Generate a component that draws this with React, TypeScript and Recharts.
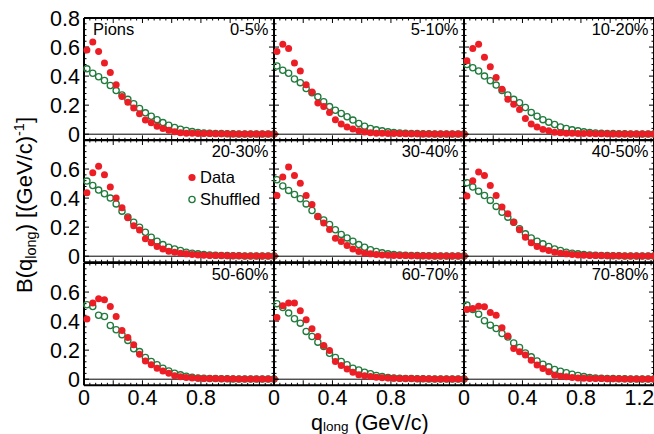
import React from 'react';
import { ScatterChart, Scatter, XAxis, YAxis, ReferenceLine, Legend } from 'recharts';

// ---------- data ----------
const Q_LONG = [0.02, 0.06, 0.10, 0.14, 0.18, 0.22, 0.26, 0.30, 0.34, 0.38, 0.42, 0.46, 0.50, 0.54, 0.58, 0.62, 0.66, 0.70, 0.74, 0.78, 0.82, 0.86, 0.90, 0.94, 0.98, 1.02, 1.06, 1.10, 1.14, 1.18, 1.22, 1.26, 1.30];

const CENTRALITY = ['0-5%', '5-10%', '10-20%', '20-30%', '30-40%', '40-50%', '50-60%', '60-70%', '70-80%'];

const DATA_0_5 = [0.58, 0.635, 0.57, 0.49, 0.425, 0.34, 0.26, 0.22, 0.18, 0.14, 0.097, 0.078, 0.055, 0.039, 0.028, 0.016, 0.01, 0.007, 0.006, 0.005, 0.004, 0.004, 0.003, 0.003, 0.003, 0.002, 0.002, 0.002, 0.002, 0.002, 0.002, 0.002, 0.002];
const SHUF_0_5 = [0.45, 0.42, 0.395, 0.37, 0.335, 0.30, 0.27, 0.24, 0.21, 0.177, 0.147, 0.124, 0.10, 0.08, 0.062, 0.046, 0.034, 0.025, 0.018, 0.012, 0.008, 0.006, 0.005, 0.004, 0.003, 0.003, 0.002, 0.002, 0.002, 0.002, 0.002, 0.002, 0.002];
const DATA_5_10 = [0.57, 0.62, 0.59, 0.49, 0.435, 0.34, 0.29, 0.215, 0.19, 0.15, 0.10, 0.07, 0.05, 0.035, 0.023, 0.015, 0.01, 0.007, 0.006, 0.005, 0.004, 0.004, 0.003, 0.003, 0.003, 0.002, 0.002, 0.002, 0.002, 0.002, 0.002, 0.002, 0.002];
const SHUF_5_10 = [0.47, 0.44, 0.42, 0.38, 0.355, 0.315, 0.285, 0.257, 0.223, 0.19, 0.165, 0.143, 0.12, 0.097, 0.074, 0.055, 0.04, 0.03, 0.023, 0.016, 0.011, 0.008, 0.006, 0.005, 0.004, 0.003, 0.003, 0.002, 0.002, 0.002, 0.002, 0.002, 0.002];
const DATA_10_20 = [0.505, 0.59, 0.62, 0.53, 0.465, 0.39, 0.31, 0.24, 0.207, 0.17, 0.108, 0.07, 0.05, 0.032, 0.023, 0.014, 0.01, 0.007, 0.006, 0.005, 0.004, 0.004, 0.003, 0.003, 0.003, 0.002, 0.002, 0.002, 0.002, 0.002, 0.002, 0.002, 0.002];
const SHUF_10_20 = [0.48, 0.457, 0.435, 0.40, 0.368, 0.338, 0.30, 0.27, 0.24, 0.216, 0.184, 0.15, 0.124, 0.10, 0.083, 0.067, 0.05, 0.04, 0.03, 0.023, 0.016, 0.011, 0.008, 0.006, 0.005, 0.004, 0.003, 0.003, 0.002, 0.002, 0.002, 0.002, 0.002];
const DATA_20_30 = [0.437, 0.575, 0.62, 0.56, 0.476, 0.40, 0.333, 0.264, 0.21, 0.18, 0.12, 0.092, 0.067, 0.05, 0.034, 0.027, 0.02, 0.016, 0.011, 0.008, 0.006, 0.005, 0.004, 0.004, 0.003, 0.003, 0.003, 0.002, 0.002, 0.002, 0.002, 0.002, 0.002];
const SHUF_20_30 = [0.517, 0.487, 0.455, 0.43, 0.40, 0.36, 0.31, 0.27, 0.234, 0.20, 0.165, 0.131, 0.103, 0.08, 0.062, 0.05, 0.039, 0.028, 0.02, 0.016, 0.011, 0.008, 0.006, 0.005, 0.004, 0.003, 0.003, 0.002, 0.002, 0.002, 0.002, 0.002, 0.002];
const DATA_30_40 = [0.418, 0.545, 0.614, 0.556, 0.503, 0.418, 0.356, 0.274, 0.228, 0.184, 0.124, 0.101, 0.074, 0.05, 0.032, 0.021, 0.016, 0.011, 0.008, 0.006, 0.005, 0.004, 0.004, 0.003, 0.003, 0.003, 0.002, 0.002, 0.002, 0.002, 0.002, 0.002, 0.002];
const SHUF_30_40 = [0.526, 0.483, 0.453, 0.425, 0.395, 0.36, 0.315, 0.274, 0.25, 0.218, 0.182, 0.15, 0.126, 0.103, 0.08, 0.062, 0.044, 0.032, 0.023, 0.016, 0.011, 0.008, 0.006, 0.005, 0.004, 0.003, 0.003, 0.002, 0.002, 0.002, 0.002, 0.002, 0.002];
const DATA_40_50 = [0.414, 0.52, 0.58, 0.556, 0.487, 0.418, 0.338, 0.292, 0.234, 0.182, 0.131, 0.092, 0.067, 0.05, 0.039, 0.028, 0.021, 0.016, 0.011, 0.008, 0.006, 0.005, 0.004, 0.004, 0.003, 0.003, 0.003, 0.002, 0.002, 0.002, 0.002, 0.002, 0.002];
const SHUF_40_50 = [0.506, 0.476, 0.448, 0.418, 0.384, 0.343, 0.303, 0.269, 0.234, 0.189, 0.154, 0.126, 0.103, 0.085, 0.067, 0.05, 0.039, 0.028, 0.021, 0.016, 0.011, 0.008, 0.006, 0.005, 0.004, 0.003, 0.003, 0.002, 0.002, 0.002, 0.002, 0.002, 0.002];
const DATA_50_60 = [0.414, 0.524, 0.554, 0.547, 0.50, 0.432, 0.336, 0.287, 0.237, 0.172, 0.126, 0.099, 0.076, 0.057, 0.041, 0.023, 0.016, 0.011, 0.008, 0.006, 0.005, 0.004, 0.004, 0.003, 0.003, 0.003, 0.002, 0.002, 0.002, 0.002, 0.002, 0.002, 0.002];
const SHUF_50_60 = [0.513, 0.50, 0.44, 0.432, 0.37, 0.34, 0.306, 0.267, 0.209, 0.19, 0.149, 0.122, 0.099, 0.076, 0.057, 0.041, 0.03, 0.021, 0.014, 0.009, 0.007, 0.005, 0.004, 0.003, 0.003, 0.002, 0.002, 0.002, 0.002, 0.002, 0.002, 0.002, 0.002];
const DATA_60_70 = [0.425, 0.506, 0.524, 0.524, 0.471, 0.41, 0.347, 0.294, 0.232, 0.198, 0.122, 0.094, 0.071, 0.048, 0.03, 0.023, 0.018, 0.014, 0.01, 0.008, 0.006, 0.005, 0.004, 0.004, 0.003, 0.003, 0.003, 0.002, 0.002, 0.002, 0.002, 0.002, 0.002];
const SHUF_60_70 = [0.52, 0.494, 0.455, 0.416, 0.386, 0.329, 0.294, 0.255, 0.225, 0.179, 0.149, 0.122, 0.099, 0.076, 0.064, 0.048, 0.037, 0.025, 0.018, 0.011, 0.008, 0.006, 0.005, 0.004, 0.003, 0.003, 0.002, 0.002, 0.002, 0.002, 0.002, 0.002, 0.002];
const DATA_70_80 = [0.48, 0.487, 0.503, 0.499, 0.46, 0.441, 0.354, 0.297, 0.211, 0.189, 0.166, 0.131, 0.097, 0.074, 0.051, 0.028, 0.021, 0.016, 0.011, 0.008, 0.006, 0.005, 0.004, 0.004, 0.003, 0.003, 0.003, 0.002, 0.002, 0.002, 0.002, 0.002, 0.002];
const SHUF_70_80 = [0.51, 0.48, 0.448, 0.402, 0.372, 0.349, 0.315, 0.29, 0.25, 0.218, 0.18, 0.154, 0.126, 0.103, 0.085, 0.067, 0.055, 0.044, 0.034, 0.025, 0.018, 0.012, 0.008, 0.006, 0.005, 0.004, 0.003, 0.003, 0.002, 0.002, 0.002, 0.002, 0.002];

const DATA_SETS = [DATA_0_5, DATA_5_10, DATA_10_20, DATA_20_30, DATA_30_40, DATA_40_50, DATA_50_60, DATA_60_70, DATA_70_80];
const SHUF_SETS = [SHUF_0_5, SHUF_5_10, SHUF_10_20, SHUF_20_30, SHUF_30_40, SHUF_40_50, SHUF_50_60, SHUF_60_70, SHUF_70_80];

const X_LABELS = [0, 0.4, 0.8];
const X_LABELS_LAST = [0, 0.4, 0.8, 1.2];
const Y_LABELS_TOP = [0, 0.2, 0.4, 0.6, 0.8];
const Y_LABELS = [0, 0.2, 0.4, 0.6];

const SERIES = [
  { name: 'Data', color: '#ec1d25', filled: true },
  { name: 'Shuffled', color: '#1f7a3c', filled: false },
];

// ---------- style / layout ----------
const FONT = '"Liberation Sans", Arial, Helvetica, sans-serif';
const RED = SERIES[0].color;
const GREEN = SERIES[1].color;
const X_DOMAIN: [number, number] = [0, 1.3];
const Y_DOMAIN: [number, number] = [-0.042, 0.8];
const COL_X = [84, 274, 464];
const COL_W = 190;
const ROW_Y = [18, 140.3, 262.7];
const ROW_H = 122.3;
const MAJ = 5;
const MIN = 2.5;

const X_TICKS: number[] = [];
for (let k = 0; k <= 32; k++) X_TICKS.push(Math.round(k * 4) / 100);
const Y_TICKS: number[] = [];
for (let k = 0; k <= 20; k++) Y_TICKS.push(Math.round(k * 4) / 100);

const near = (a: number, b: number) => Math.abs(a - b) < 1e-6;
const isMajor = (v: number) => near(v / 0.2, Math.round(v / 0.2));
const fmt = (v: number) => (near(v, 0) ? '0' : String(+v.toFixed(1)));
const hasLabel = (labels: number[], v: number) => labels.some((l) => near(l, v));

// tick marks drawn through the chart scales (points on the frame edges)
const BOTTOM_TICKS = X_TICKS.map((t) => ({ q: t, data: Y_DOMAIN[0], v: t }));
const TOP_TICKS = X_TICKS.map((t) => ({ q: t, data: Y_DOMAIN[1], v: t }));
const LEFT_TICKS = Y_TICKS.map((t) => ({ q: X_DOMAIN[0], data: t, v: t }));
const RIGHT_TICKS = Y_TICKS.map((t) => ({ q: X_DOMAIN[1], data: t, v: t }));

const tickShape = (side: 'bottom' | 'top' | 'left' | 'right') => (p: any) => {
  const v = p.payload ? p.payload.v : 0;
  const len = isMajor(v) ? MAJ : MIN;
  const x = p.cx;
  const y = p.cy;
  let x2 = x;
  let y2 = y;
  if (side === 'bottom') y2 = y - len;
  if (side === 'top') y2 = y + len;
  if (side === 'left') x2 = x + len;
  if (side === 'right') x2 = x - len;
  return <line x1={x} y1={y} x2={x2} y2={y2} stroke="#000" strokeWidth={1} />;
};

const labelTick = (side: 'bottom' | 'left', labels: number[]) => (p: any) => {
  const v = p.payload.value;
  const x = Number(p.x);
  const y = Number(p.y);
  if (!hasLabel(labels, v)) return <g />;
  if (side === 'bottom')
    return (
      <text x={x} y={y + 19.5} textAnchor="middle" fontSize={21.5} fontFamily={FONT} fill="#000">
        {fmt(v)}
      </text>
    );
  return (
    <text x={x - 4} y={y} dy="0.355em" textAnchor="end" fontSize={21.5} fontFamily={FONT} fill="#000">
      {fmt(v)}
    </text>
  );
};

const redShape = (p: any) => <circle cx={p.cx} cy={p.cy} r={3.5} fill={RED} />;
const greenShape = (p: any) => <circle cx={p.cx} cy={p.cy} r={3.1} fill="none" stroke={GREEN} strokeWidth={1.3} />;

const renderLegend = (props: any) => {
  const payload = props.payload || [];
  const ordered = SERIES.filter((s) => payload.some((e: any) => e.value === s.name));
  return (
    <svg width={110} height={52} style={{ display: 'block', overflow: 'visible' }}>
      {ordered.map((s, i) => (
        <g key={s.name}>
          {s.filled ? (
            <circle cx={7} cy={17.5 + i * 22} r={3.6} fill={s.color} />
          ) : (
            <circle cx={7} cy={17.5 + i * 22} r={3.1} fill="none" stroke={s.color} strokeWidth={1.3} />
          )}
          <text x={15} y={23 + i * 22} fontSize={16.5} fontFamily={FONT} fill="#000">
            {s.name}
          </text>
        </g>
      ))}
    </svg>
  );
};

function Panel({ idx }: { idx: number }) {
  const r = Math.floor(idx / 3);
  const c = idx % 3;
  const padL = c === 0 ? 84 : 20;
  const padR = c < 2 ? 8 : 0;
  const padT = r === 0 ? 18 : 10;
  const padB = r === 2 ? 434 - (ROW_Y[2] + ROW_H) : 10;
  const width = COL_W + padL + padR;
  const height = ROW_H + padT + padB;
  const left = COL_X[c] - padL;
  const top = ROW_Y[r] - padT;
  const rows = Q_LONG.map((q, i) => ({ q, data: DATA_SETS[idx][i], shuffled: SHUF_SETS[idx][i] }));
  const xLabels = r === 2 ? (c === 2 ? X_LABELS_LAST : X_LABELS) : [];
  const yLabels = c === 0 ? (r === 0 ? Y_LABELS_TOP : Y_LABELS) : [];
  return (
    <div style={{ position: 'absolute', left, top, width, height }}>
      <ScatterChart
        width={width}
        height={height}
        margin={{ top: padT, right: padR, bottom: r === 2 ? 0 : padB, left: c === 0 ? 0 : padL }}
      >
        <XAxis
          xAxisId="b"
          orientation="bottom"
          type="number"
          dataKey="q"
          domain={X_DOMAIN}
          ticks={X_TICKS}
          interval={0}
          height={r === 2 ? padB : 0}
          tickSize={0}
          tickMargin={0}
          tickLine={false}
          axisLine={false}
          tick={labelTick('bottom', xLabels)}
        />
        <XAxis
          xAxisId="t"
          orientation="top"
          type="number"
          dataKey="q"
          domain={X_DOMAIN}
          height={0}
          tickLine={false}
          axisLine={false}
          tick={false}
        />
        <YAxis
          yAxisId="l"
          orientation="left"
          type="number"
          dataKey="data"
          domain={Y_DOMAIN}
          ticks={Y_TICKS}
          interval={0}
          width={c === 0 ? 84 : 0}
          tickSize={0}
          tickMargin={0}
          tickLine={false}
          axisLine={false}
          tick={labelTick('left', yLabels)}
        />
        <YAxis
          yAxisId="r"
          orientation="right"
          type="number"
          dataKey="shuffled"
          domain={Y_DOMAIN}
          width={0}
          tickLine={false}
          axisLine={false}
          tick={false}
        />
        <ReferenceLine xAxisId="b" yAxisId="l" y={0} stroke="#000" strokeWidth={1} />
        <ReferenceLine xAxisId="b" yAxisId="l" y={Y_DOMAIN[0]} stroke="#000" strokeWidth={2} />
        <ReferenceLine xAxisId="b" yAxisId="l" y={Y_DOMAIN[1]} stroke="#000" strokeWidth={2} />
        <ReferenceLine xAxisId="b" yAxisId="l" x={X_DOMAIN[0]} stroke="#000" strokeWidth={2} />
        <ReferenceLine xAxisId="b" yAxisId="l" x={X_DOMAIN[1]} stroke="#000" strokeWidth={2} />
        <Scatter name="ticks-b" data={BOTTOM_TICKS} xAxisId="b" yAxisId="l" legendType="none" shape={tickShape('bottom')} isAnimationActive={false} />
        <Scatter name="ticks-t" data={TOP_TICKS} xAxisId="b" yAxisId="l" legendType="none" shape={tickShape('top')} isAnimationActive={false} />
        <Scatter name="ticks-l" data={LEFT_TICKS} xAxisId="b" yAxisId="l" legendType="none" shape={tickShape('left')} isAnimationActive={false} />
        <Scatter name="ticks-r" data={RIGHT_TICKS} xAxisId="b" yAxisId="l" legendType="none" shape={tickShape('right')} isAnimationActive={false} />
        <Scatter
          name={SERIES[1].name}
          data={rows}
          xAxisId="t"
          yAxisId="r"
          fill={GREEN}
          shape={greenShape}
          isAnimationActive={false}
        />
        <Scatter
          name={SERIES[0].name}
          data={rows}
          xAxisId="b"
          yAxisId="l"
          fill={RED}
          shape={redShape}
          isAnimationActive={false}
        />
        {idx === 3 && (
          <Legend
            layout="vertical"
            align="center"
            verticalAlign="middle"
            content={renderLegend}
            wrapperStyle={{ position: 'absolute', left: 185, top: 160 - top, width: 110, height: 52, margin: 0 }}
          />
        )}
      </ScatterChart>
    </div>
  );
}

export default function App() {
  return (
    <div
      style={{
        position: 'absolute',
        left: 0,
        top: 0,
        width: 654,
        height: 434,
        background: '#fff',
        overflow: 'hidden',
        fontFamily: FONT,
      }}
    >
      {CENTRALITY.map((_, i) => (
        <Panel key={i} idx={i} />
      ))}
      <svg
        width={654}
        height={434}
        style={{ position: 'absolute', left: 0, top: 0, pointerEvents: 'none' }}
      >
        <text x={93} y={34.5} fontSize={16.5} fontFamily={FONT} fill="#000">
          Pions
        </text>
        {CENTRALITY.map((lab, i) => {
          const r = Math.floor(i / 3);
          const c = i % 3;
          return (
            <text
              key={lab}
              x={COL_X[c] + COL_W - 5.5}
              y={ROW_Y[r] + 17}
              textAnchor="end"
              fontSize={16.5}
              fontFamily={FONT}
              fill="#000"
            >
              {lab}
            </text>
          );
        })}
        <text x={311} y={429.5} fontSize={21.5} fontFamily={FONT} fill="#000">
          q
          <tspan fontSize={13.5} dy={1.5}>
            long
          </tspan>
          <tspan dy={-1.5}> (GeV/c)</tspan>
        </text>
        <text transform="translate(32,293) rotate(-90)" fontSize={22} fontFamily={FONT} fill="#000">
          B(q
          <tspan fontSize={14.5} dy={4}>
            long
          </tspan>
          <tspan dy={-4}>) [(GeV/c)</tspan>
          <tspan fontSize={14.5} dy={-8}>
            -1
          </tspan>
          <tspan dy={8}>]</tspan>
        </text>
      </svg>
    </div>
  );
}
